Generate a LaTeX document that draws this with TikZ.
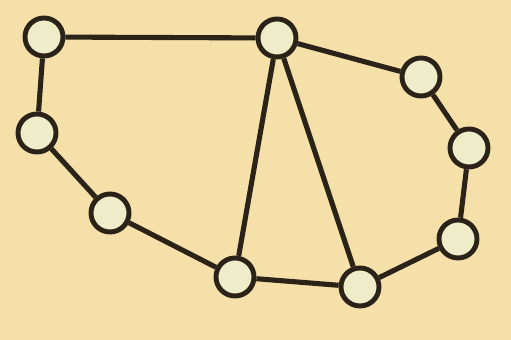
\documentclass[tikz,border=0pt]{standalone}
\usepackage{xcolor}
\usepackage{tikz}
\usetikzlibrary{backgrounds}

\definecolor{paper}{HTML}{F5E0AA}
\definecolor{ink}{HTML}{2B2318}
\definecolor{hole}{HTML}{EFEDC9}

\begin{document}
\begin{tikzpicture}[
  x=0.2mm, y=-0.2mm,
  vertex/.style={circle,draw=ink,fill=hole,line width=2.8pt,minimum size=7.6mm,inner sep=0pt},
  edge/.style={draw=ink,line width=2.9pt}
]
\useasboundingbox (0,0) rectangle (511,340);
% nodes, going round the outer ring
\node[vertex] (A) at (44,37) {};
\node[vertex] (B) at (277,38) {};
\node[vertex] (C) at (421,77) {};
\node[vertex] (D) at (469,148) {};
\node[vertex] (E) at (458,239) {};
\node[vertex] (F) at (360,287) {};
\node[vertex] (G) at (235,277) {};
\node[vertex] (H) at (110,213) {};
\node[vertex] (I) at (37,133) {};
% paper and connectors behind the nodes
\begin{scope}[on background layer]
\fill[paper] (0,0) rectangle (511,340);
\draw[edge] (A) -- (B) -- (C) -- (D) -- (E) -- (F) -- (G) -- (H) -- (I) -- (A);
\draw[edge] (B) -- (G);
\draw[edge] (B) -- (F);
\end{scope}
\end{tikzpicture}
\end{document}
